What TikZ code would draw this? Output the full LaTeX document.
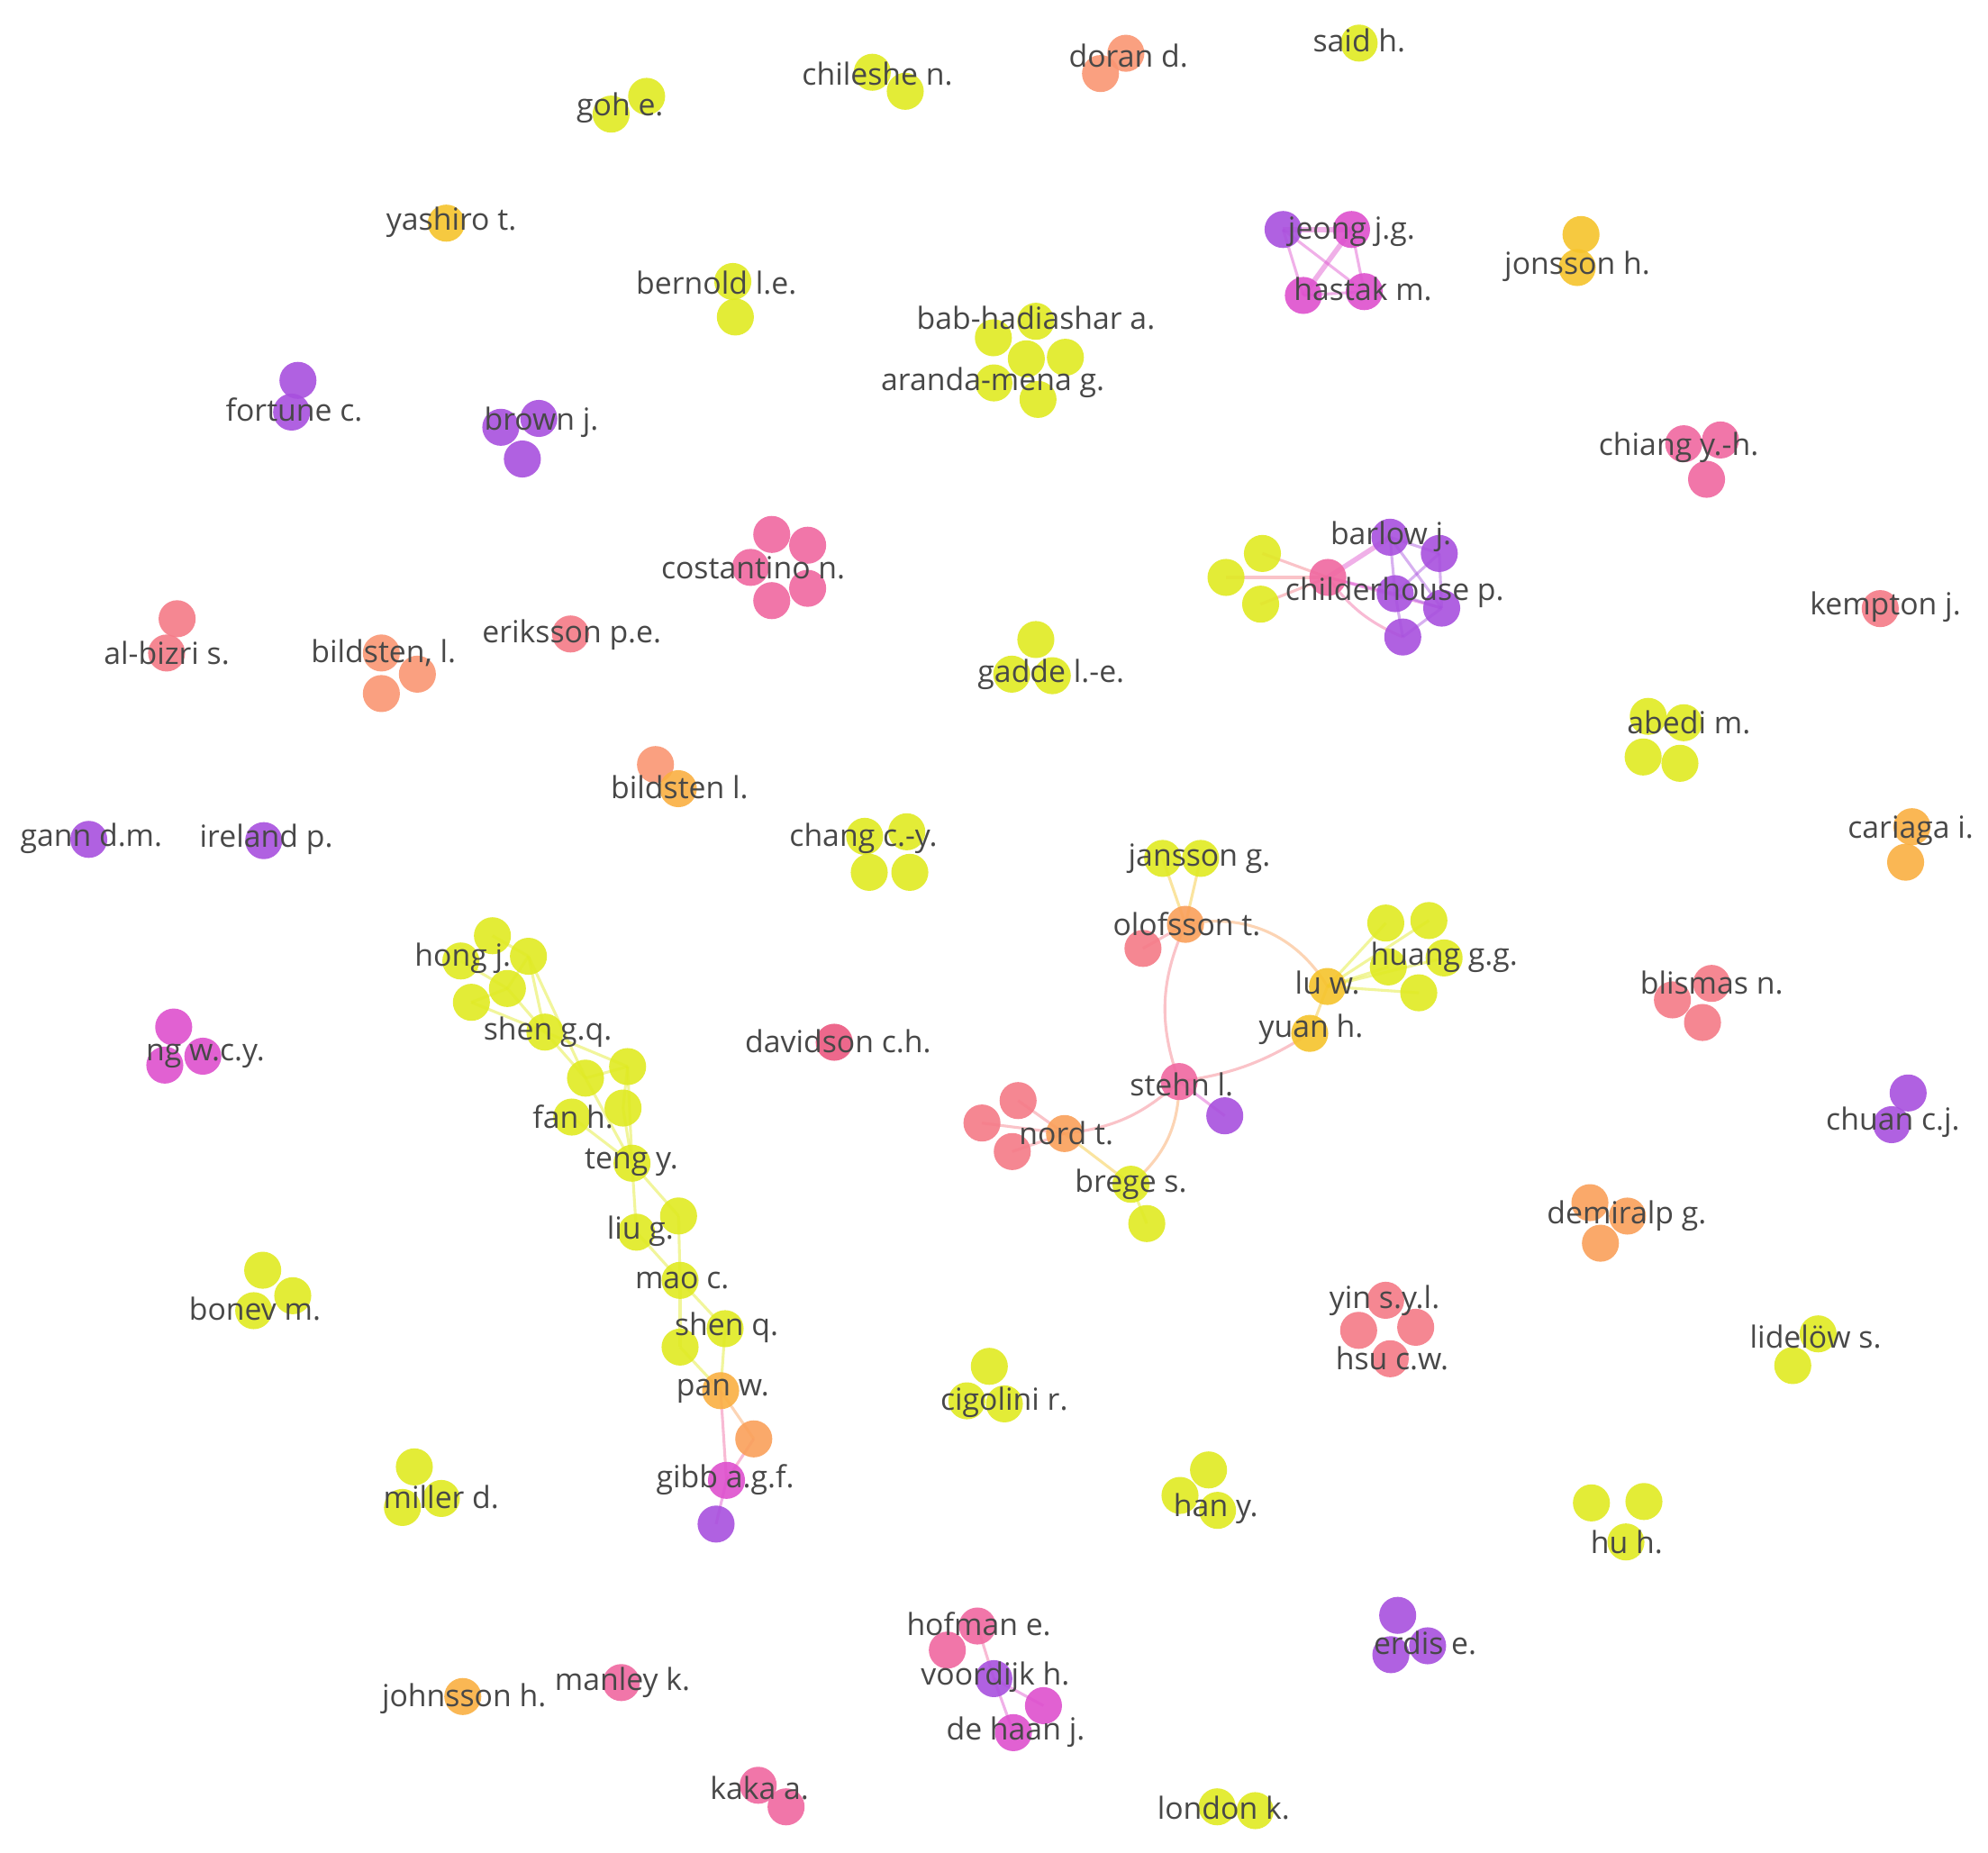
\documentclass[tikz,border=0pt]{standalone}
\usepackage{fontspec}
\setmainfont{Open Sans}
\usetikzlibrary{backgrounds}
\definecolor{cLime}{RGB}{224,234,34}
\definecolor{cGold}{RGB}{246,196,44}
\definecolor{cAmber}{RGB}{250,176,66}
\definecolor{cOrange}{RGB}{250,160,90}
\definecolor{cPeach}{RGB}{250,150,115}
\definecolor{cSalmon}{RGB}{245,122,135}
\definecolor{cPink}{RGB}{240,104,160}
\definecolor{cRose}{RGB}{236,88,128}
\definecolor{cMagenta}{RGB}{222,80,206}
\definecolor{cPurple}{RGB}{168,80,222}
\definecolor{labgray}{RGB}{72,72,72}
\begin{document}
\begin{tikzpicture}[x=0.5pt,y=-0.5pt,
  bub/.style={circle,minimum size=14.6pt,inner sep=0pt,draw=none,fill=#1,fill opacity=0.9},
  lab/.style={text=labgray,font=\fontsize{12}{14}\selectfont,inner sep=0pt},
  lnk/.style={draw=#1,line width=1.1pt,draw opacity=0.45}]
\useasboundingbox (0,0) rectangle (1568,1461);

% ---------- top ----------
\node[bub=cLime] (go1) at (510,76) {};
\node[bub=cLime] (go2) at (482,90) {};
\node[lab] (goL) at (489,85) {goh e.};

\node[bub=cLime] (ch1) at (688,57) {};
\node[bub=cLime] (ch2) at (714,72) {};
\node[lab] (chL) at (692,58) {chileshe n.};

\node[bub=cPeach] (do1) at (888,42) {};
\node[bub=cPeach] (do2) at (868,58) {};
\node[lab] (doL) at (890,44) {doran d.};

\node[bub=cLime] (sa1) at (1072,34) {};
\node[lab] (saL) at (1072,32) {said h.};

\node[bub=cGold] (ya1) at (352,176) {};
\node[lab] (yaL) at (356,175) {yashiro t.};

\node[bub=cLime] (be1) at (578,222) {};
\node[bub=cLime] (be2) at (580,250) {};
\node[lab] (beL) at (565,223) {bernold l.e.};

\node[bub=cPurple] (je1) at (1012,181) {};
\node[bub=cMagenta] (je2) at (1066,181) {};
\node[bub=cMagenta] (ha1) at (1028,233) {};
\node[bub=cMagenta] (ha2) at (1076,230) {};
\node[lab] (jeL) at (1066,183) {jeong j.g.};
\node[lab] (haL) at (1075,228) {hastak m.};

\node[bub=cGold] (jo1) at (1247,185) {};
\node[bub=cGold] (jo2) at (1244,211) {};
\node[lab] (joL) at (1244,210) {jonsson h.};

\node[bub=cLime] (ba1) at (783.5,266.4) {};
\node[bub=cLime] (ba2) at (817,253.4) {};
\node[bub=cLime] (ba3) at (809.5,283) {};
\node[bub=cLime] (ba4) at (840.3,281.8) {};
\node[bub=cLime] (ba5) at (783.9,302) {};
\node[bub=cLime] (ba6) at (818.7,315) {};
\node[lab] (baL) at (817,251) {bab-hadiashar a.};
\node[lab] (arL) at (783,302) {aranda-mena g.};

\node[bub=cPurple] (fo1) at (235,300) {};
\node[bub=cPurple] (fo2) at (230,325) {};
\node[lab] (foL) at (232,323) {fortune c.};

\node[bub=cPurple] (br1) at (395,337) {};
\node[bub=cPurple] (br2) at (425,330) {};
\node[bub=cPurple] (br3) at (412,362) {};
\node[lab] (brL) at (427,333) {brown j.};

\node[bub=cPink] (ci1) at (1328,350) {};
\node[bub=cPink] (ci2) at (1357,347) {};
\node[bub=cPink] (ci3) at (1346,378) {};
\node[lab] (ciL) at (1324,353) {chiang y.-h.};

\node[bub=cPink] (co1) at (608.7,421.5) {};
\node[bub=cPink] (co2) at (637,430) {};
\node[bub=cPink] (co3) at (592,447.5) {};
\node[bub=cPink] (co4) at (637,464) {};
\node[bub=cPink] (co5) at (608.7,473.7) {};
\node[lab] (coL) at (594,448) {costantino n.};

% barlow / childerhouse
\node[bub=cLime] (bl1) at (995.7,436.5) {};
\node[bub=cLime] (bl2) at (967,455.4) {};
\node[bub=cLime] (bl3) at (994.3,476.5) {};
\node[bub=cPink] (bp) at (1047.3,455.4) {};
\node[bub=cPurple] (bu1) at (1096.3,423.7) {};
\node[bub=cPurple] (bu2) at (1135.2,436.5) {};
\node[bub=cPurple] (bu3) at (1100.4,468.2) {};
\node[bub=cPurple] (bu4) at (1137.1,479.6) {};
\node[bub=cPurple] (bu5) at (1106.4,502.4) {};
\node[lab] (buL) at (1097,423) {barlow j.};
\node[lab] (bpL) at (1100,467) {childerhouse p.};

\node[bub=cSalmon] (ke1) at (1483,480) {};
\node[lab] (keL) at (1487,479) {kempton j.};

\node[bub=cSalmon] (al1) at (139.7,488) {};
\node[bub=cSalmon] (al2) at (131.4,515) {};
\node[lab] (alL) at (131.5,515) {al-bizri s.};

\node[bub=cPeach] (bi1) at (300.8,515) {};
\node[bub=cPeach] (bi2) at (329.2,531.7) {};
\node[bub=cPeach] (bi3) at (300.8,547) {};
\node[lab] (biL) at (302.5,515) {bildsten, l.};

\node[bub=cSalmon] (er1) at (450,500) {};
\node[lab] (erL) at (451,501) {eriksson p.e.};

\node[bub=cLime] (ga1) at (817,504.4) {};
\node[bub=cLime] (ga2) at (798,531.7) {};
\node[bub=cLime] (ga3) at (830,532.9) {};
\node[lab] (gaL) at (829,532) {gadde l.-e.};

\node[bub=cLime] (ab1) at (1300,565) {};
\node[bub=cLime] (ab2) at (1328,570) {};
\node[bub=cLime] (ab3) at (1296,597) {};
\node[bub=cLime] (ab4) at (1325,602) {};
\node[lab] (abL) at (1332,570) {abedi m.};

\node[bub=cPeach] (bs1) at (517,603) {};
\node[bub=cAmber] (bs2) at (535,622) {};
\node[lab] (bsL) at (536,621) {bildsten l.};

\node[bub=cLime] (cc1) at (682,659.6) {};
\node[bub=cLime] (cc2) at (715.2,656) {};
\node[bub=cLime] (cc3) at (685.6,688) {};
\node[bub=cLime] (cc4) at (717.6,688) {};
\node[lab] (ccL) at (681,661) {chang c.-y.};

\node[bub=cAmber] (ca1) at (1508,652) {};
\node[bub=cAmber] (ca2) at (1503,680) {};
\node[lab] (caL) at (1507,655) {cariaga i.};

\node[bub=cPurple] (gn1) at (70,662) {};
\node[lab] (gnL) at (72,661) {gann d.m.};

\node[bub=cPurple] (ir1) at (208,663) {};
\node[lab] (irL) at (210,662) {ireland p.};

% stehn cluster
\node[bub=cLime] (ja1) at (917,677) {};
\node[bub=cLime] (ja2) at (947,677) {};
\node[bub=cSalmon] (ols) at (901.5,748) {};
\node[bub=cOrange] (ol) at (935,729) {};
\node[bub=cLime] (hu1) at (1093,728) {};
\node[bub=cLime] (hu2) at (1127,726) {};
\node[bub=cLime] (hu3) at (1139,755.5) {};
\node[bub=cLime] (hu4) at (1095,762.6) {};
\node[bub=cLime] (hu5) at (1119,783) {};
\node[bub=cGold] (lu) at (1047,778) {};
\node[bub=cGold] (yu) at (1033,815) {};
\node[bub=cPurple] (stp) at (966,880) {};
\node[bub=cPink] (st) at (930,853) {};
\node[bub=cSalmon] (no1) at (803,868) {};
\node[bub=cSalmon] (no2) at (774.5,885.7) {};
\node[bub=cSalmon] (no3) at (798.4,908.2) {};
\node[bub=cOrange] (no) at (839.6,894) {};
\node[bub=cLime] (bg2) at (904.5,965) {};
\node[bub=cLime] (bg1) at (892,934) {};
\node[lab] (jaL) at (946,677) {jansson g.};
\node[lab] (olL) at (936,729) {olofsson t.};
\node[lab] (huL) at (1139,755) {huang g.g.};
\node[lab] (luL) at (1047,775) {lu w.};
\node[lab] (yuL) at (1034,812) {yuan h.};
\node[lab] (stL) at (932,855) {stehn l.};
\node[lab] (noL) at (841,894) {nord t.};
\node[lab] (bgL) at (892,934) {brege s.};

% chain
\node[bub=cLime] (ho1) at (388.4,738) {};
\node[bub=cLime] (ho2) at (416.8,754.2) {};
\node[bub=cLime] (ho3) at (363.5,757.9) {};
\node[bub=cLime] (ho4) at (400.2,779.6) {};
\node[bub=cLime] (ho5) at (371.8,790.5) {};
\node[bub=cLime] (sg) at (429.8,814) {};
\node[bub=cLime] (fa1) at (461.8,850.3) {};
\node[bub=cLime] (fa2) at (495,841.2) {};
\node[bub=cLime] (fa3) at (491.4,873.9) {};
\node[bub=cLime] (fa4) at (451,881) {};
\node[bub=cLime] (te) at (498.5,917.4) {};
\node[bub=cLime] (li1) at (535.2,959) {};
\node[bub=cLime] (li2) at (502,971.8) {};
\node[bub=cLime] (ma) at (536.4,1009.8) {};
\node[bub=cLime] (sq1) at (571.9,1047.9) {};
\node[bub=cLime] (sq2) at (536.4,1062.4) {};
\node[bub=cAmber] (pa) at (568.4,1096.8) {};
\node[bub=cOrange] (pao) at (594.5,1134.8) {};
\node[bub=cMagenta] (gi) at (573,1167.5) {};
\node[bub=cPurple] (gip) at (564.8,1202) {};
\node[lab] (hoL) at (365,756) {hong j.};
\node[lab] (sgL) at (432,814) {shen g.q.};
\node[lab] (faL) at (452,881) {fan h.};
\node[lab] (teL) at (498,917) {teng y.};
\node[lab] (liL) at (505,971) {liu g.};
\node[lab] (maL) at (538,1010) {mao c.};
\node[lab] (sqL) at (573,1047) {shen q.};
\node[lab] (paL) at (570,1097) {pan w.};
\node[lab] (giL) at (572,1167) {gibb a.g.f.};

\node[bub=cRose] (da1) at (658,822) {};
\node[lab] (daL) at (661,821) {davidson c.h.};

\node[bub=cSalmon] (bm1) at (1350,775.6) {};
\node[bub=cSalmon] (bm2) at (1319.1,788.6) {};
\node[bub=cSalmon] (bm3) at (1342.8,806.4) {};
\node[lab] (bmL) at (1350,775) {blismas n.};

\node[bub=cMagenta] (ng1) at (137,810) {};
\node[bub=cMagenta] (ng2) at (130,840) {};
\node[bub=cMagenta] (ng3) at (160,833) {};
\node[lab] (ngL) at (162,833) {ng w.c.y.};

\node[bub=cPurple] (cu1) at (1505,862) {};
\node[bub=cPurple] (cu2) at (1492,887) {};
\node[lab] (cuL) at (1493,885) {chuan c.j.};

\node[bub=cOrange] (de1) at (1254,948.5) {};
\node[bub=cOrange] (de2) at (1283.6,959.1) {};
\node[bub=cOrange] (de3) at (1262.3,980.5) {};
\node[lab] (deL) at (1283,959) {demiralp g.};

\node[bub=cLime] (bo1) at (207.2,1001.8) {};
\node[bub=cLime] (bo2) at (230.9,1021.9) {};
\node[bub=cLime] (bo3) at (200.1,1033.7) {};
\node[lab] (boL) at (201,1032) {bonev m.};

\node[bub=cSalmon] (yi1) at (1092.9,1025.5) {};
\node[bub=cSalmon] (yi2) at (1071.6,1049.2) {};
\node[bub=cSalmon] (yi3) at (1116.6,1046.8) {};
\node[bub=cSalmon] (yi4) at (1096.5,1071.6) {};
\node[lab] (yiL) at (1092,1026) {yin s.y.l.};
\node[lab] (hsL) at (1098,1071) {hsu c.w.};

\node[bub=cLime] (ld1) at (1434,1052) {};
\node[bub=cLime] (ld2) at (1414,1077) {};
\node[lab] (ldL) at (1432,1054) {lidelöw s.};

\node[bub=cLime] (cg1) at (780.3,1077.6) {};
\node[bub=cLime] (cg2) at (762.6,1104.8) {};
\node[bub=cLime] (cg3) at (792.2,1107.2) {};
\node[lab] (cgL) at (792,1106) {cigolini r.};

\node[bub=cLime] (mi1) at (326.8,1156.9) {};
\node[bub=cLime] (mi2) at (348.1,1181.8) {};
\node[bub=cLime] (mi3) at (317.4,1188.9) {};
\node[lab] (miL) at (348,1181) {miller d.};

\node[bub=cLime] (hy1) at (953.2,1159.3) {};
\node[bub=cLime] (hy2) at (930.7,1179.4) {};
\node[bub=cLime] (hy3) at (960.3,1191.2) {};
\node[lab] (hyL) at (959,1190) {han y.};

\node[bub=cLime] (hh1) at (1255.2,1185.3) {};
\node[bub=cLime] (hh2) at (1296.6,1184.2) {};
\node[bub=cLime] (hh3) at (1282.4,1216.1) {};
\node[lab] (hhL) at (1283,1216) {hu h.};

% hofman / voordijk / de haan
\node[bub=cPink] (hf1) at (770.9,1282.4) {};
\node[bub=cPink] (hf2) at (747.2,1301.4) {};
\node[bub=cPurple] (vo) at (783.9,1323.9) {};
\node[bub=cMagenta] (dh1) at (823,1345.2) {};
\node[bub=cMagenta] (dh2) at (799.3,1366.5) {};
\node[lab] (hfL) at (772,1281) {hofman e.};
\node[lab] (voL) at (785,1323) {voordijk h.};
\node[lab] (dhL) at (801,1366) {de haan j.};

\node[bub=cPurple] (ed1) at (1102.4,1274) {};
\node[bub=cPurple] (ed2) at (1097,1305) {};
\node[bub=cPurple] (ed3) at (1126,1298) {};
\node[lab] (edL) at (1124,1296) {erdis e.};

\node[bub=cAmber] (jh1) at (365,1338) {};
\node[lab] (jhL) at (366,1340) {johnsson h.};

\node[bub=cPink] (mk1) at (490,1327) {};
\node[lab] (mkL) at (491,1327) {manley k.};

\node[bub=cPink] (ka1) at (598,1408) {};
\node[bub=cPink] (ka2) at (620,1425) {};
\node[lab] (kaL) at (599,1410) {kaka a.};

\node[bub=cLime] (lo1) at (960,1425) {};
\node[bub=cLime] (lo2) at (990,1428) {};
\node[lab] (loL) at (965,1426) {london k.};

% ---------- links ----------
\begin{scope}[on background layer]
\fill[white] (0,0) rectangle (1568,1461);
% jeong / hastak
\draw[lnk=cMagenta,line width=2pt] (je1.center) -- (je2.center);
\draw[lnk=cMagenta] (je1.center) -- (ha1.center);
\draw[lnk=cMagenta,line width=2pt] (je2.center) -- (ha1.center);
\draw[lnk=cMagenta] (je2.center) -- (ha2.center);
\draw[lnk=cMagenta] (je1.center) -- (ha2.center);
\draw[lnk=cMagenta] (ha1.center) -- (ha2.center);
% barlow
\draw[lnk=cSalmon] (bl1.center) -- (bp.center);
\draw[lnk=cSalmon] (bl3.center) -- (bp.center);
\draw[lnk=cSalmon] (bl2.center) -- (bp.center);
\draw[lnk=cMagenta,line width=2pt] (bp.center) -- (bu1.center);
\draw[lnk=cMagenta] (bp.center) -- (bu3.center);
\draw[lnk=cMagenta] (bp.center) -- (bu4.center);
\draw[lnk=cPink] (bp.center) to[bend right=15] (bu5.center);
\draw[lnk=cPurple] (bu1.center) -- (bu2.center);
\draw[lnk=cPurple] (bu1.center) -- (bu3.center);
\draw[lnk=cPurple] (bu1.center) -- (bu4.center);
\draw[lnk=cPurple] (bu2.center) -- (bu3.center);
\draw[lnk=cPurple] (bu2.center) -- (bu4.center);
\draw[lnk=cPurple] (bu3.center) -- (bu4.center);
\draw[lnk=cPurple] (bu3.center) -- (bu5.center);
\draw[lnk=cPurple] (bu4.center) -- (bu5.center);
% stehn cluster
\draw[lnk=cGold] (ja1.center) -- (ol.center);
\draw[lnk=cGold] (ja2.center) -- (ol.center);
\draw[lnk=cSalmon] (ol.center) -- (ols.center);
\draw[lnk=cSalmon] (ol.center) to[bend right=22] (st.center);
\draw[lnk=cOrange] (ol.center) to[bend left=35] (lu.center);
\draw[lnk=cGold] (lu.center) -- (yu.center);
\draw[lnk=cLime] (lu.center) -- (hu1.center);
\draw[lnk=cLime] (lu.center) -- (hu2.center);
\draw[lnk=cLime] (lu.center) -- (hu3.center);
\draw[lnk=cLime] (lu.center) -- (hu4.center);
\draw[lnk=cLime] (lu.center) -- (hu5.center);
\draw[lnk=cSalmon] (yu.center) to[bend left=12] (st.center);
\draw[lnk=cSalmon] (st.center) to[bend left=18] (no.center);
\draw[lnk=cOrange] (st.center) to[bend left=25] (bg1.center);
\draw[lnk=cMagenta] (st.center) -- (stp.center);
\draw[lnk=cGold] (no.center) -- (bg1.center);
\draw[lnk=cSalmon] (no.center) -- (no1.center);
\draw[lnk=cSalmon] (no.center) -- (no2.center);
\draw[lnk=cSalmon] (no.center) -- (no3.center);
\draw[lnk=cLime] (bg1.center) -- (bg2.center);
% chain
\draw[lnk=cLime] (ho1.center) -- (ho2.center);
\draw[lnk=cLime] (ho2.center) -- (ho4.center);
\draw[lnk=cLime] (ho3.center) -- (ho4.center);
\draw[lnk=cLime] (ho4.center) -- (ho5.center);
\draw[lnk=cLime] (ho2.center) -- (sg.center);
\draw[lnk=cLime] (ho4.center) -- (sg.center);
\draw[lnk=cLime] (ho5.center) -- (sg.center);
\draw[lnk=cLime] (ho2.center) -- (fa1.center);
\draw[lnk=cLime] (sg.center) -- (fa1.center);
\draw[lnk=cLime] (sg.center) -- (fa2.center);
\draw[lnk=cLime] (fa1.center) -- (fa2.center);
\draw[lnk=cLime] (fa2.center) -- (fa3.center);
\draw[lnk=cLime] (fa1.center) -- (te.center);
\draw[lnk=cLime] (fa2.center) -- (te.center);
\draw[lnk=cLime] (fa3.center) -- (te.center);
\draw[lnk=cLime] (fa4.center) -- (te.center);
\draw[lnk=cLime] (te.center) -- (li1.center);
\draw[lnk=cLime] (te.center) -- (li2.center);
\draw[lnk=cLime] (li1.center) -- (ma.center);
\draw[lnk=cLime] (li2.center) -- (ma.center);
\draw[lnk=cLime] (ma.center) -- (sq1.center);
\draw[lnk=cLime] (ma.center) -- (sq2.center);
\draw[lnk=cLime] (sq1.center) -- (pa.center);
\draw[lnk=cLime] (sq2.center) -- (pa.center);
\draw[lnk=cOrange] (pa.center) -- (pao.center);
\draw[lnk=cPink] (pa.center) -- (gi.center);
\draw[lnk=cPink] (pao.center) -- (gi.center);
\draw[lnk=cMagenta] (gi.center) -- (gip.center);
% hofman
\draw[lnk=cPink] (hf1.center) -- (vo.center);
\draw[lnk=cMagenta] (vo.center) -- (dh2.center);
\draw[lnk=cMagenta] (vo.center) -- (dh1.center);
\end{scope}
\end{tikzpicture}
\end{document}
